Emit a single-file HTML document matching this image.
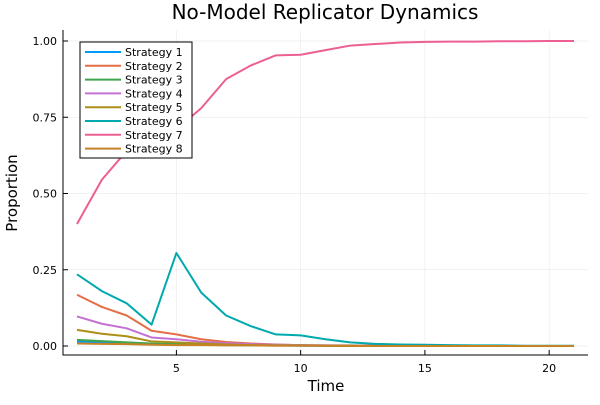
<!DOCTYPE html>
<html><head><meta charset="utf-8"><style>body{margin:0;background:#fff}svg{font-family:"DejaVu Sans","Liberation Sans",sans-serif}</style></head>
<body>
<svg id="c" width="600" height="400"></svg>
<script>
const times=[1,2,3,4,5,6,7,8,9,10,11,12,13,14,15,16,17,18,19,20,21];
const s1=[0.015,0.012,0.009,0.006,0.005,0.004,0.003,0.002,0.002,0.001,0.001,0.001,0.001,0,0,0,0,0,0,0,0];
const s2=[0.168,0.128,0.10,0.05,0.038,0.022,0.013,0.008,0.005,0.003,0.002,0.002,0.001,0.001,0.001,0,0,0,0,0,0];
const s3=[0.02,0.016,0.012,0.008,0.006,0.005,0.004,0.003,0.002,0.002,0.001,0.001,0.001,0,0,0,0,0,0,0,0];
const s4=[0.097,0.073,0.058,0.028,0.022,0.014,0.009,0.006,0.004,0.003,0.002,0.001,0.001,0.001,0,0,0,0,0,0,0];
const s5=[0.053,0.04,0.032,0.015,0.012,0.008,0.005,0.003,0.002,0.002,0.001,0.001,0,0,0,0,0,0,0,0,0];
const s6=[0.235,0.18,0.14,0.07,0.305,0.175,0.10,0.065,0.038,0.035,0.022,0.012,0.007,0.005,0.004,0.003,0.002,0.002,0.001,0.001,0.001];
const s7=[0.40,0.545,0.64,0.68,0.71,0.78,0.875,0.92,0.953,0.955,0.97,0.985,0.99,0.995,0.997,0.998,0.998,0.999,0.999,1,1];
const s8=[0.008,0.007,0.006,0.004,0.003,0.003,0.002,0.002,0.001,0.001,0.001,0,0,0,0,0,0,0,0,0,0];
const xTicks=[5,10,15,20];
const yTicks=[0,0.25,0.5,0.75,1];
const yTickLabels=["0.00","0.25","0.50","0.75","1.00"];
const seriesNames=["Strategy 1","Strategy 2","Strategy 3","Strategy 4","Strategy 5","Strategy 6","Strategy 7","Strategy 8"];
const series=[s1,s2,s3,s4,s5,s6,s7,s8];
const colors=["#009AFA","#E36F47","#3EA44E","#C371D2","#AC8E18","#00A9AD","#ED5E93","#C68225"];
const X=t=>77+24.85*(t-1), Y=v=>346-305*v;
const svg=document.getElementById('c'),NS="http://www.w3.org/2000/svg";
function mk(tag,a,p){const e=document.createElementNS(NS,tag);for(const k in a)e.setAttribute(k,a[k]);(p||svg).appendChild(e);return e;}
const L=63,R=588,T=30,B=355;
xTicks.forEach(t=>{const g=mk('line',{x1:X(t),x2:X(t),y1:T,y2:B,stroke:'#000','stroke-opacity':0.1,'stroke-width':0.5});

const tk=mk('line',{x1:X(t),x2:X(t),y1:B,y2:B-5,stroke:'#000'});
const tx=mk('text',{x:X(t),y:B+17,'text-anchor':'middle','font-size':11});tx.textContent=t;
});
yTicks.forEach((v,i)=>{const g=mk('line',{x1:L,x2:R,y1:Y(v),y2:Y(v),stroke:'#000','stroke-opacity':0.1,'stroke-width':0.5});

const tk=mk('line',{x1:L,x2:L+5,y1:Y(v),y2:Y(v),stroke:'#000'});
const tx=mk('text',{x:L-6,y:Y(v)+4,'text-anchor':'end','font-size':11});tx.textContent=yTickLabels[i];
});
const ax=mk('path',{d:`M${L} ${T}V${B}H${R}`,fill:'none',stroke:'#000','stroke-width':1});

series.forEach((s,i)=>{const p=mk('polyline',{points:s.map((v,j)=>X(times[j])+','+Y(v)).join(' '),fill:'none',stroke:colors[i],'stroke-width':2,'stroke-linejoin':'round'});
});
const lg=mk('g',{});
mk('rect',{x:80,y:42,width:112,height:116,fill:'#fff',stroke:'#000','stroke-width':1},lg);
seriesNames.forEach((n,i)=>{const y=52+13.8*i;
const ln=mk('line',{x1:85,x2:121,y1:y,y2:y,stroke:colors[i],'stroke-width':2},lg);

const t=mk('text',{x:125,y:y+4,'font-size':11},lg);t.textContent=n;
});
const ti=mk('text',{x:325,y:19,'text-anchor':'middle','font-size':20});ti.textContent="No-Model Replicator Dynamics";

const xl=mk('text',{x:326,y:391,'text-anchor':'middle','font-size':15});xl.textContent="Time";

const yl=mk('text',{x:17,y:193,'text-anchor':'middle','font-size':15,transform:'rotate(-90 17 193)'});yl.textContent="Proportion";

</script>
</body></html>
